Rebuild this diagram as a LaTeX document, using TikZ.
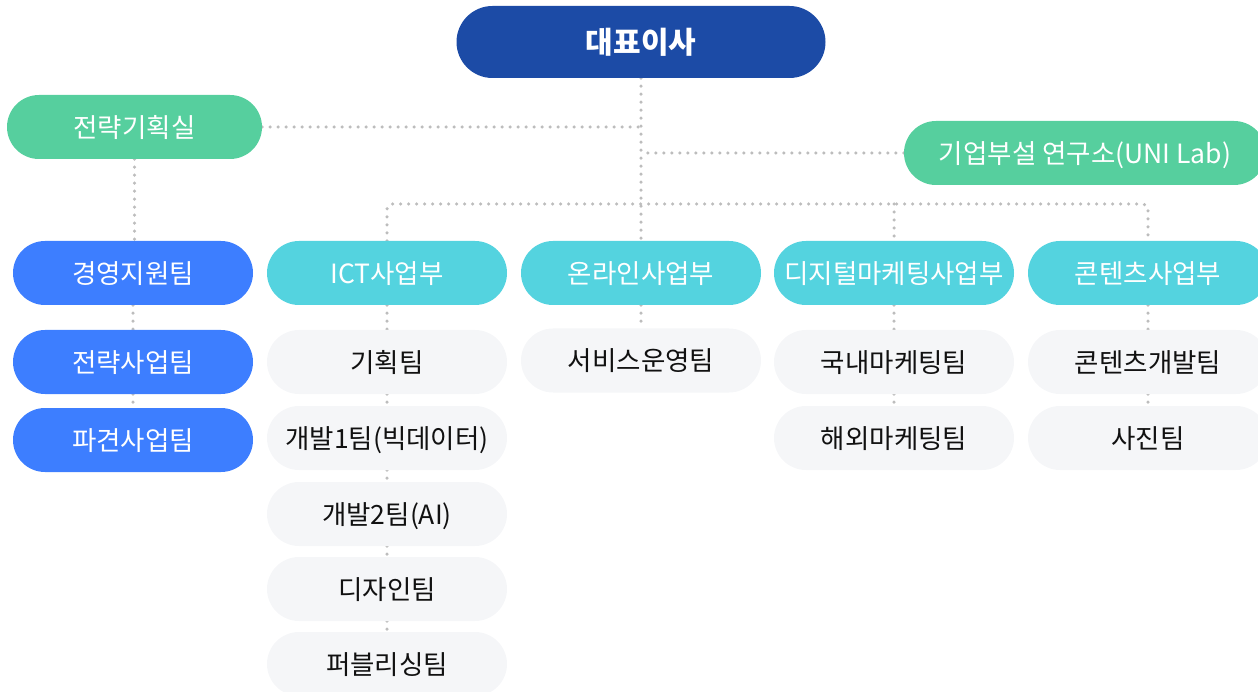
\documentclass[tikz,border=0pt]{standalone}
\usepackage{fontspec}
\setmainfont{Noto Sans CJK KR}
\usetikzlibrary{backgrounds}
\definecolor{ceoblue}{HTML}{1C4BA6}
\definecolor{mint}{HTML}{56CF9E}
\definecolor{royal}{HTML}{3D7EFF}
\definecolor{cyanish}{HTML}{54D3DF}
\definecolor{pale}{HTML}{F5F6F8}
\definecolor{dotgray}{HTML}{BDBDBD}
\definecolor{ink}{HTML}{111111}
\begin{document}
\begin{tikzpicture}[x=1pt,y=-1pt,
  pill/.style={rectangle, rounded corners=32pt, minimum width=240pt, minimum height=64pt,
    inner sep=0pt, font=\fontsize{26.5}{26.5}\selectfont, text height=21.6pt, text depth=1.2pt},
  ceobox/.style={pill, fill=ceoblue, text=white, rounded corners=36pt, minimum width=369pt,
    minimum height=72pt, font=\fontsize{30}{30}\selectfont\bfseries, text height=24.3pt, text depth=1.2pt},
  greenbox/.style={pill, fill=mint, text=white},
  bluebox/.style={pill, fill=royal, text=white},
  cyanbox/.style={pill, fill=cyanish, text=white},
  teambox/.style={pill, fill=pale, text=ink},
  dots/.style={draw=dotgray, line width=3.5pt, dash pattern=on 0pt off 8pt, line cap=round}]
\useasboundingbox (0,0) rectangle (1258,692);
\clip (0,0) rectangle (1258,692);

\node[ceobox] (ceo) at (641,42) {대표이사};
\node[greenbox, minimum width=255pt] (plan) at (134.5,127) {전략기획실};
\node[greenbox, minimum width=362pt] (lab) at (1085,153) {기업부설 연구소(UNI Lab)};

\node[bluebox] (mgmt) at (133,273) {경영지원팀};
\node[cyanbox] (ict) at (387,273) {ICT사업부};
\node[cyanbox] (online) at (641,273) {온라인사업부};
\node[cyanbox] (digital) at (894,273) {디지털마케팅사업부};
\node[cyanbox] (content) at (1148,273) {콘텐츠사업부};

\node[bluebox] (stratbiz) at (133,362) {전략사업팀};
\node[teambox] (planteam) at (387,362) {기획팀};
\node[teambox] (service) at (641,360.5) {서비스운영팀};
\node[teambox] (domestic) at (894,362) {국내마케팅팀};
\node[teambox] (contdev) at (1148,362) {콘텐츠개발팀};

\node[bluebox] (dispatch) at (133,440) {파견사업팀};
\node[teambox] (dev1) at (387,438) {개발1팀(빅데이터)};
\node[teambox] (overseas) at (894,438) {해외마케팅팀};
\node[teambox] (photo) at (1148,438) {사진팀};

\node[teambox] (dev2) at (387,514) {개발2팀(AI)};
\node[teambox] (design) at (387,589) {디자인팀};
\node[teambox] (publish) at (387,664) {퍼블리싱팀};

\coordinate (bus) at (641,204);
\begin{scope}[on background layer]
\draw[dots] (ceo.south) -- (online.north);
\draw[dots] (plan.east) -- (plan.east -| ceo.south);
\draw[dots] (lab.west) -- (lab.west -| ceo.south);
\draw[dots, rounded corners=5pt] (ict.north) |- (bus) -| (content.north);
\draw[dots] (digital.north |- bus) -- (digital.north);
\draw[dots] (plan.south) -- (plan.south |- mgmt.north);
\draw[dots] (mgmt.south) -- (stratbiz.north);
\draw[dots] (stratbiz.south) -- (dispatch.north);
\draw[dots] (ict.south) -- (planteam.north);
\draw[dots] (planteam.south) -- (dev1.north);
\draw[dots] (dev1.south) -- (dev2.north);
\draw[dots] (dev2.south) -- (design.north);
\draw[dots] (design.south) -- (publish.north);
\draw[dots] (online.south) -- (service.north);
\draw[dots] (digital.south) -- (domestic.north);
\draw[dots] (domestic.south) -- (overseas.north);
\draw[dots] (content.south) -- (contdev.north);
\draw[dots] (contdev.south) -- (photo.north);
\end{scope}
\end{tikzpicture}
\end{document}
